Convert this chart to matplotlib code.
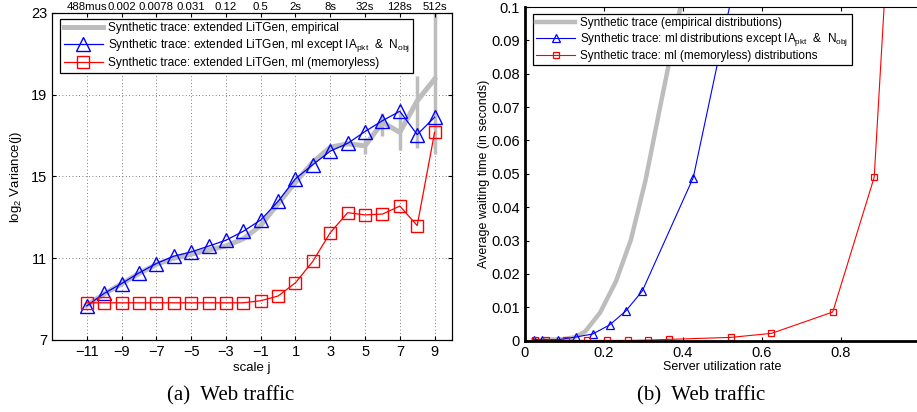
import numpy as np
import matplotlib
matplotlib.use("Agg")
import matplotlib.pyplot as plt

plt.rcParams['font.family'] = 'Liberation Sans'
plt.rcParams['mathtext.fontset'] = 'custom'
plt.rcParams['mathtext.rm'] = 'Liberation Sans'
plt.rcParams['mathtext.it'] = 'Liberation Sans:italic'

# (a) log2 variance per scale j
scale_j = np.arange(-11, 10)
var_empirical = [8.7, 9.25, 9.75, 10.25, 10.7, 11.0, 11.2, 11.4, 11.6, 11.95, 12.6,
                 13.67, 14.72, 15.7, 16.43, 16.6, 16.5, 17.65, 17.16, 18.7, 19.77]
var_low = [8.7, 9.25, 9.75, 10.25, 10.7, 11.0, 11.2, 11.4, 11.6, 11.95, 12.6,
           13.67, 14.72, 15.7, 16.43, 16.6, 16.1, 17.0, 16.3, 16.4, 16.1]
var_high = [8.7, 9.25, 9.75, 10.25, 10.7, 11.0, 11.2, 11.4, 11.6, 11.95, 12.6,
            13.67, 14.72, 15.7, 16.43, 16.6, 16.9, 18.1, 18.1, 19.9, 24.0]
var_ml_except = [8.67, 9.28, 9.76, 10.28, 10.74, 11.1, 11.31, 11.59, 11.88, 12.32, 12.87,
                 13.78, 14.89, 15.58, 16.24, 16.62, 17.2, 17.73, 18.19, 17.05, 17.9]
var_memoryless = [8.82, 8.82, 8.82, 8.82, 8.82, 8.82, 8.82, 8.82, 8.82, 8.82, 8.92,
                  9.15, 9.8, 10.85, 12.25, 13.23, 13.12, 13.16, 13.55, 12.6, 17.16]
top_labels = ['488mus', '0.002', '0.0078', '0.031', '0.12', '0.5',
              '2s', '8s', '32s', '128s', '512s']

# (b) average waiting time vs server utilization
util_emp = [0.02, 0.06, 0.10, 0.125, 0.152, 0.19, 0.23, 0.268, 0.305, 0.343, 0.381, 0.419]
wait_emp = [0.0002, 0.0003, 0.0005, 0.001, 0.0027, 0.0084, 0.0177, 0.0302, 0.048, 0.0706, 0.0927, 0.115]
util_ml = [0.023, 0.042, 0.084, 0.128, 0.171, 0.214, 0.255, 0.297, 0.426, 0.55]
wait_ml = [0.0003, 0.0003, 0.0003, 0.0011, 0.002, 0.0047, 0.0089, 0.0149, 0.0489, 0.118]
util_mem = [0.025, 0.052, 0.104, 0.156, 0.208, 0.261, 0.312, 0.364, 0.521, 0.624, 0.779, 0.884, 0.99]
wait_mem = [0.0001, 0.0001, 0.0001, 0.0001, 0.0001, 0.0001, 0.0002, 0.0004, 0.001, 0.0022, 0.0086, 0.049, 0.265]

gray = '#bdbdbd'

fig = plt.figure(figsize=(9.17, 4.12), dpi=100)

# ---- left panel
ax = fig.add_axes([0.0567, 0.1748, 0.4362, 0.7937])
yerr = [np.array(var_empirical) - np.array(var_low), np.array(var_high) - np.array(var_empirical)]
ax.errorbar(scale_j, var_empirical, yerr=yerr, color=gray, lw=3.6, elinewidth=2.5,
            capsize=0, zorder=2)
h0, = ax.plot([], [], color=gray, lw=3.6, label='Synthetic trace: extended LiTGen, empirical')
h1, = ax.plot(scale_j, var_ml_except, '-^', color='blue', lw=0.9, ms=10, mfc='none', mew=1.0,
              label='Synthetic trace: extended LiTGen, ml except IA$_{\\rm pkt}$  &  N$_{\\rm obj}$', zorder=3)
h2, = ax.plot(scale_j, var_memoryless, '-s', color='red', lw=0.9, ms=8, mfc='none', mew=1.0,
              label='Synthetic trace: extended LiTGen, ml (memoryless)', zorder=3)
ax.set_xlim(-13, 10)
ax.set_ylim(7, 23)
ax.set_xticks(np.arange(-11, 10, 2))
ax.set_xticklabels([str(v).replace('-', '\u2212') for v in range(-11, 10, 2)])
ax.set_yticks([7, 11, 15, 19, 23])
ax.grid(True, linestyle=(0, (1, 3)), color='#555555', lw=0.6)
ax.tick_params(direction='in', labelsize=10.5, top=False, right=True, length=3)
ax.set_xlabel('scale j', fontsize=9.5, labelpad=2)
ax.set_ylabel('log$_2$ Variance(j)', fontsize=9.5, labelpad=5)
leg = ax.legend(handles=[h0, h1, h2], loc='upper left', bbox_to_anchor=(0.02, 0.982), fontsize=8.6,
                fancybox=False, edgecolor='black', framealpha=1, borderpad=0.3, labelspacing=0.25,
                handlelength=3.3, handletextpad=0.4, borderaxespad=0)
leg.get_frame().set_linewidth(0.9)

axt = ax.twiny()
axt.set_xlim(ax.get_xlim())
axt.set_xticks(np.arange(-11, 10, 2))
axt.set_xticklabels(top_labels)
axt.tick_params(direction='in', labelsize=8.2, length=3, pad=1)

# ---- right panel
bx = fig.add_axes([0.5725, 0.173, 0.4308, 0.81])
bx.plot(util_emp, wait_emp, color=gray, lw=3.2, label='Synthetic trace (empirical distributions)')
bx.plot(util_ml, wait_ml, '-^', color='blue', lw=0.8, ms=6, mfc='none', mew=0.9,
        label='Synthetic trace: ml distributions except IA$_{\\rm pkt}$  &  N$_{\\rm obj}$')
bx.plot(util_mem, wait_mem, '-s', color='red', lw=0.8, ms=5, mfc='none', mew=0.9,
        label='Synthetic trace: ml (memoryless) distributions')
bx.set_xlim(0, 1)
bx.set_ylim(0, 0.1)
bx.set_xticks([0, 0.2, 0.4, 0.6, 0.8])
bx.set_xticklabels(['0', '0.2', '0.4', '0.6', '0.8'])
bx.set_yticks(np.arange(0, 0.101, 0.01))
bx.set_yticklabels(['0'] + ['%.2f' % v for v in np.arange(0.01, 0.095, 0.01)] + ['0.1'])
bx.tick_params(direction='in', labelsize=10.5, top=True, length=3)
bx.spines['left'].set_linewidth(2)
bx.spines['bottom'].set_linewidth(2)
bx.set_xlabel('Server utilization rate', fontsize=9, labelpad=1)
bx.set_ylabel('Average waiting time (in seconds)', fontsize=9, labelpad=1)
leg2 = bx.legend(loc='upper left', bbox_to_anchor=(0.02, 0.98), fontsize=8.5, fancybox=False,
                 edgecolor='black', framealpha=1, borderpad=0.3, labelspacing=0.15,
                 handlelength=3.3, handletextpad=0.4, borderaxespad=0)
leg2.get_frame().set_linewidth(0.9)

fig.text(0.251, 0.04, '(a)  Web traffic', family='Liberation Serif', fontsize=15, ha='center', va='center')
fig.text(0.765, 0.04, '(b)  Web traffic', family='Liberation Serif', fontsize=15, ha='center', va='center')

fig.savefig('out.png', dpi=100)
